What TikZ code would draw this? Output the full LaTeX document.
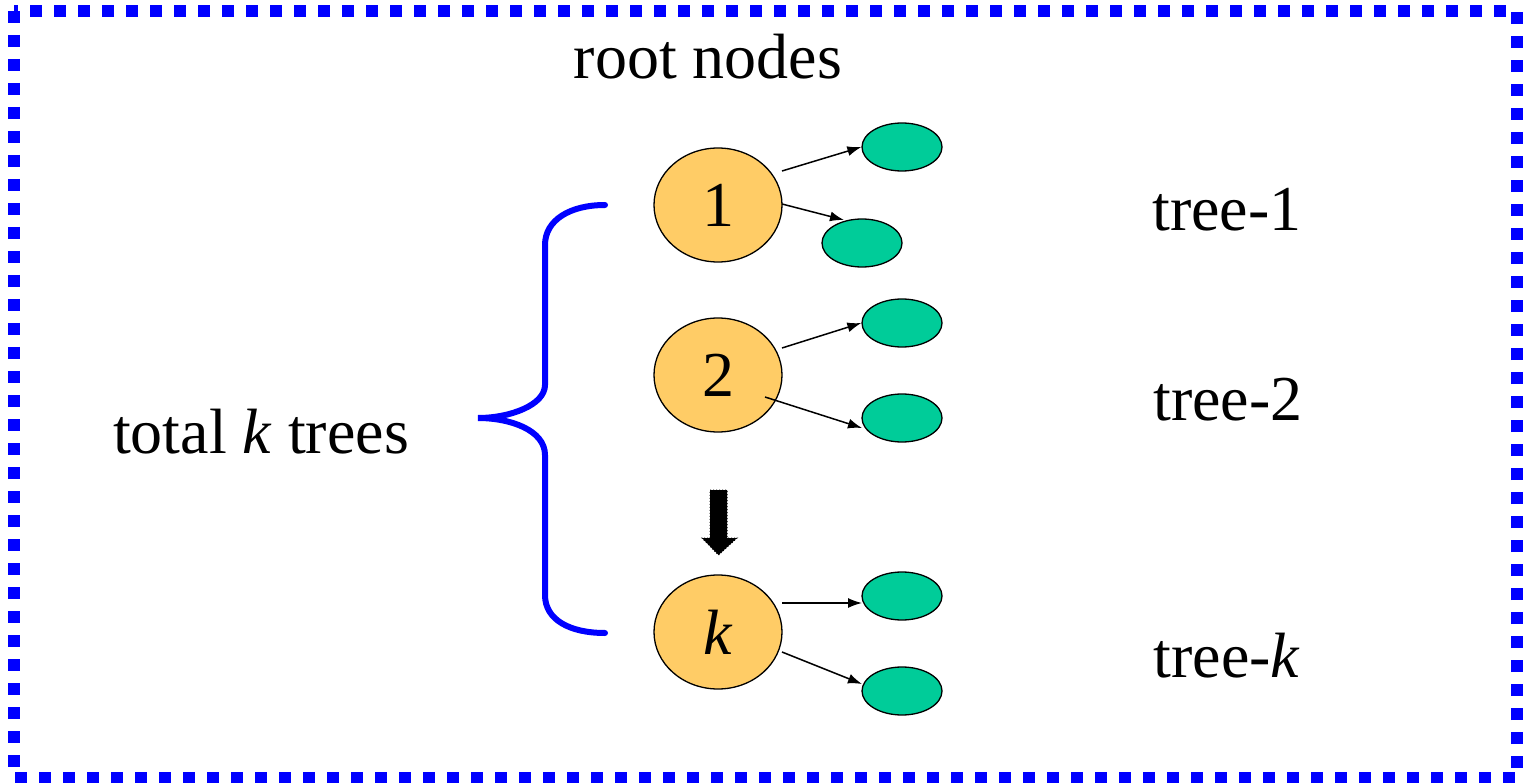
\documentclass[tikz,border=0pt]{standalone}
\usepackage{fontspec}
\setmainfont{Liberation Serif}
\usetikzlibrary{shapes.geometric,arrows.meta}
\definecolor{rootfill}{HTML}{FFCC66}
\definecolor{leaffill}{HTML}{00CC99}
\begin{document}
\begin{tikzpicture}[x=1pt,y=-1pt,
  rootnode/.style={ellipse,draw=black,line width=1.3pt,fill=rootfill,minimum width=128pt,minimum height=114pt,inner sep=0pt,font=\fontsize{64}{66}\selectfont},
  leaf/.style={ellipse,draw=black,line width=1.3pt,fill=leaffill,minimum width=80pt,minimum height=48pt,inner sep=0pt},
  conn/.style={line width=1.5pt,-{Latex[length=14pt,width=10pt]}},
  lbl/.style={font=\fontsize{64}{66}\selectfont,inner sep=0pt},
  brace/.style={draw=blue,line width=6pt,line cap=round}
]
\useasboundingbox (0,0) rectangle (1523,783);
\draw[blue,line width=12pt,dash pattern=on 12pt off 12pt] (14,11) rectangle (1517,778);

\node[lbl] (title) at (708,57) {root nodes};
\node[lbl] (total) at (261,432) {total \textit{k} trees};
\node[lbl] (t1) at (1227,210) {tree-1};
\node[lbl] (t2) at (1228,400) {tree-2};
\node[lbl] (tk) at (1227,656) {tree-\textit{k}};

\node[rootnode] (r1) at (718,205) {1};
\node[rootnode] (r2) at (718,375) {2};
\node[rootnode] (rk) at (718,632) {\textit{k}};

\node[leaf] (a1) at (902,147) {};
\node[leaf] (a2) at (862,243) {};
\node[leaf] (b1) at (902,323) {};
\node[leaf] (b2) at (902,418) {};
\node[leaf] (c1) at (902,596) {};
\node[leaf] (c2) at (902,691) {};

\coordinate (s1) at (782,171);
\coordinate (s2) at (782,204);
\coordinate (s3) at (782,348);
\coordinate (s4) at (765,397);
\coordinate (s5) at (782,603);
\coordinate (e5) at (862,603);
\coordinate (s6) at (782,652);
\draw[conn] (s1) -- (a1.west);
\draw[conn] (s2) -- (844,220);
\draw[conn] (s3) -- (b1.west);
\draw[conn] (s4) -- (862,428);
\draw[conn] (s5) -- (e5);
\draw[conn] (s6) -- (862,684);

% down block arrow
\fill[black] (710,490) -- (727,490) -- (727,538) -- (737,538) -- (718.5,555) -- (702,538) -- (710,538) -- cycle;
\draw[black,line width=1pt,dotted] (710,490) -- (727,490) -- (727,538) -- (737,538) -- (718.5,555) -- (702,538) -- (710,538) -- cycle;

% brace
\coordinate (bt) at (605,205);
\coordinate (bm) at (478,418);
\coordinate (bb) at (605,633);
\draw[brace] (bt) .. controls (570,205) and (545,220) .. (545,245)
  -- (545,385) .. controls (545,405) and (510,418) .. (bm)
  .. controls (510,418) and (545,430) .. (545,455)
  -- (545,595) .. controls (545,620) and (570,633) .. (bb);
\end{tikzpicture}
\end{document}
